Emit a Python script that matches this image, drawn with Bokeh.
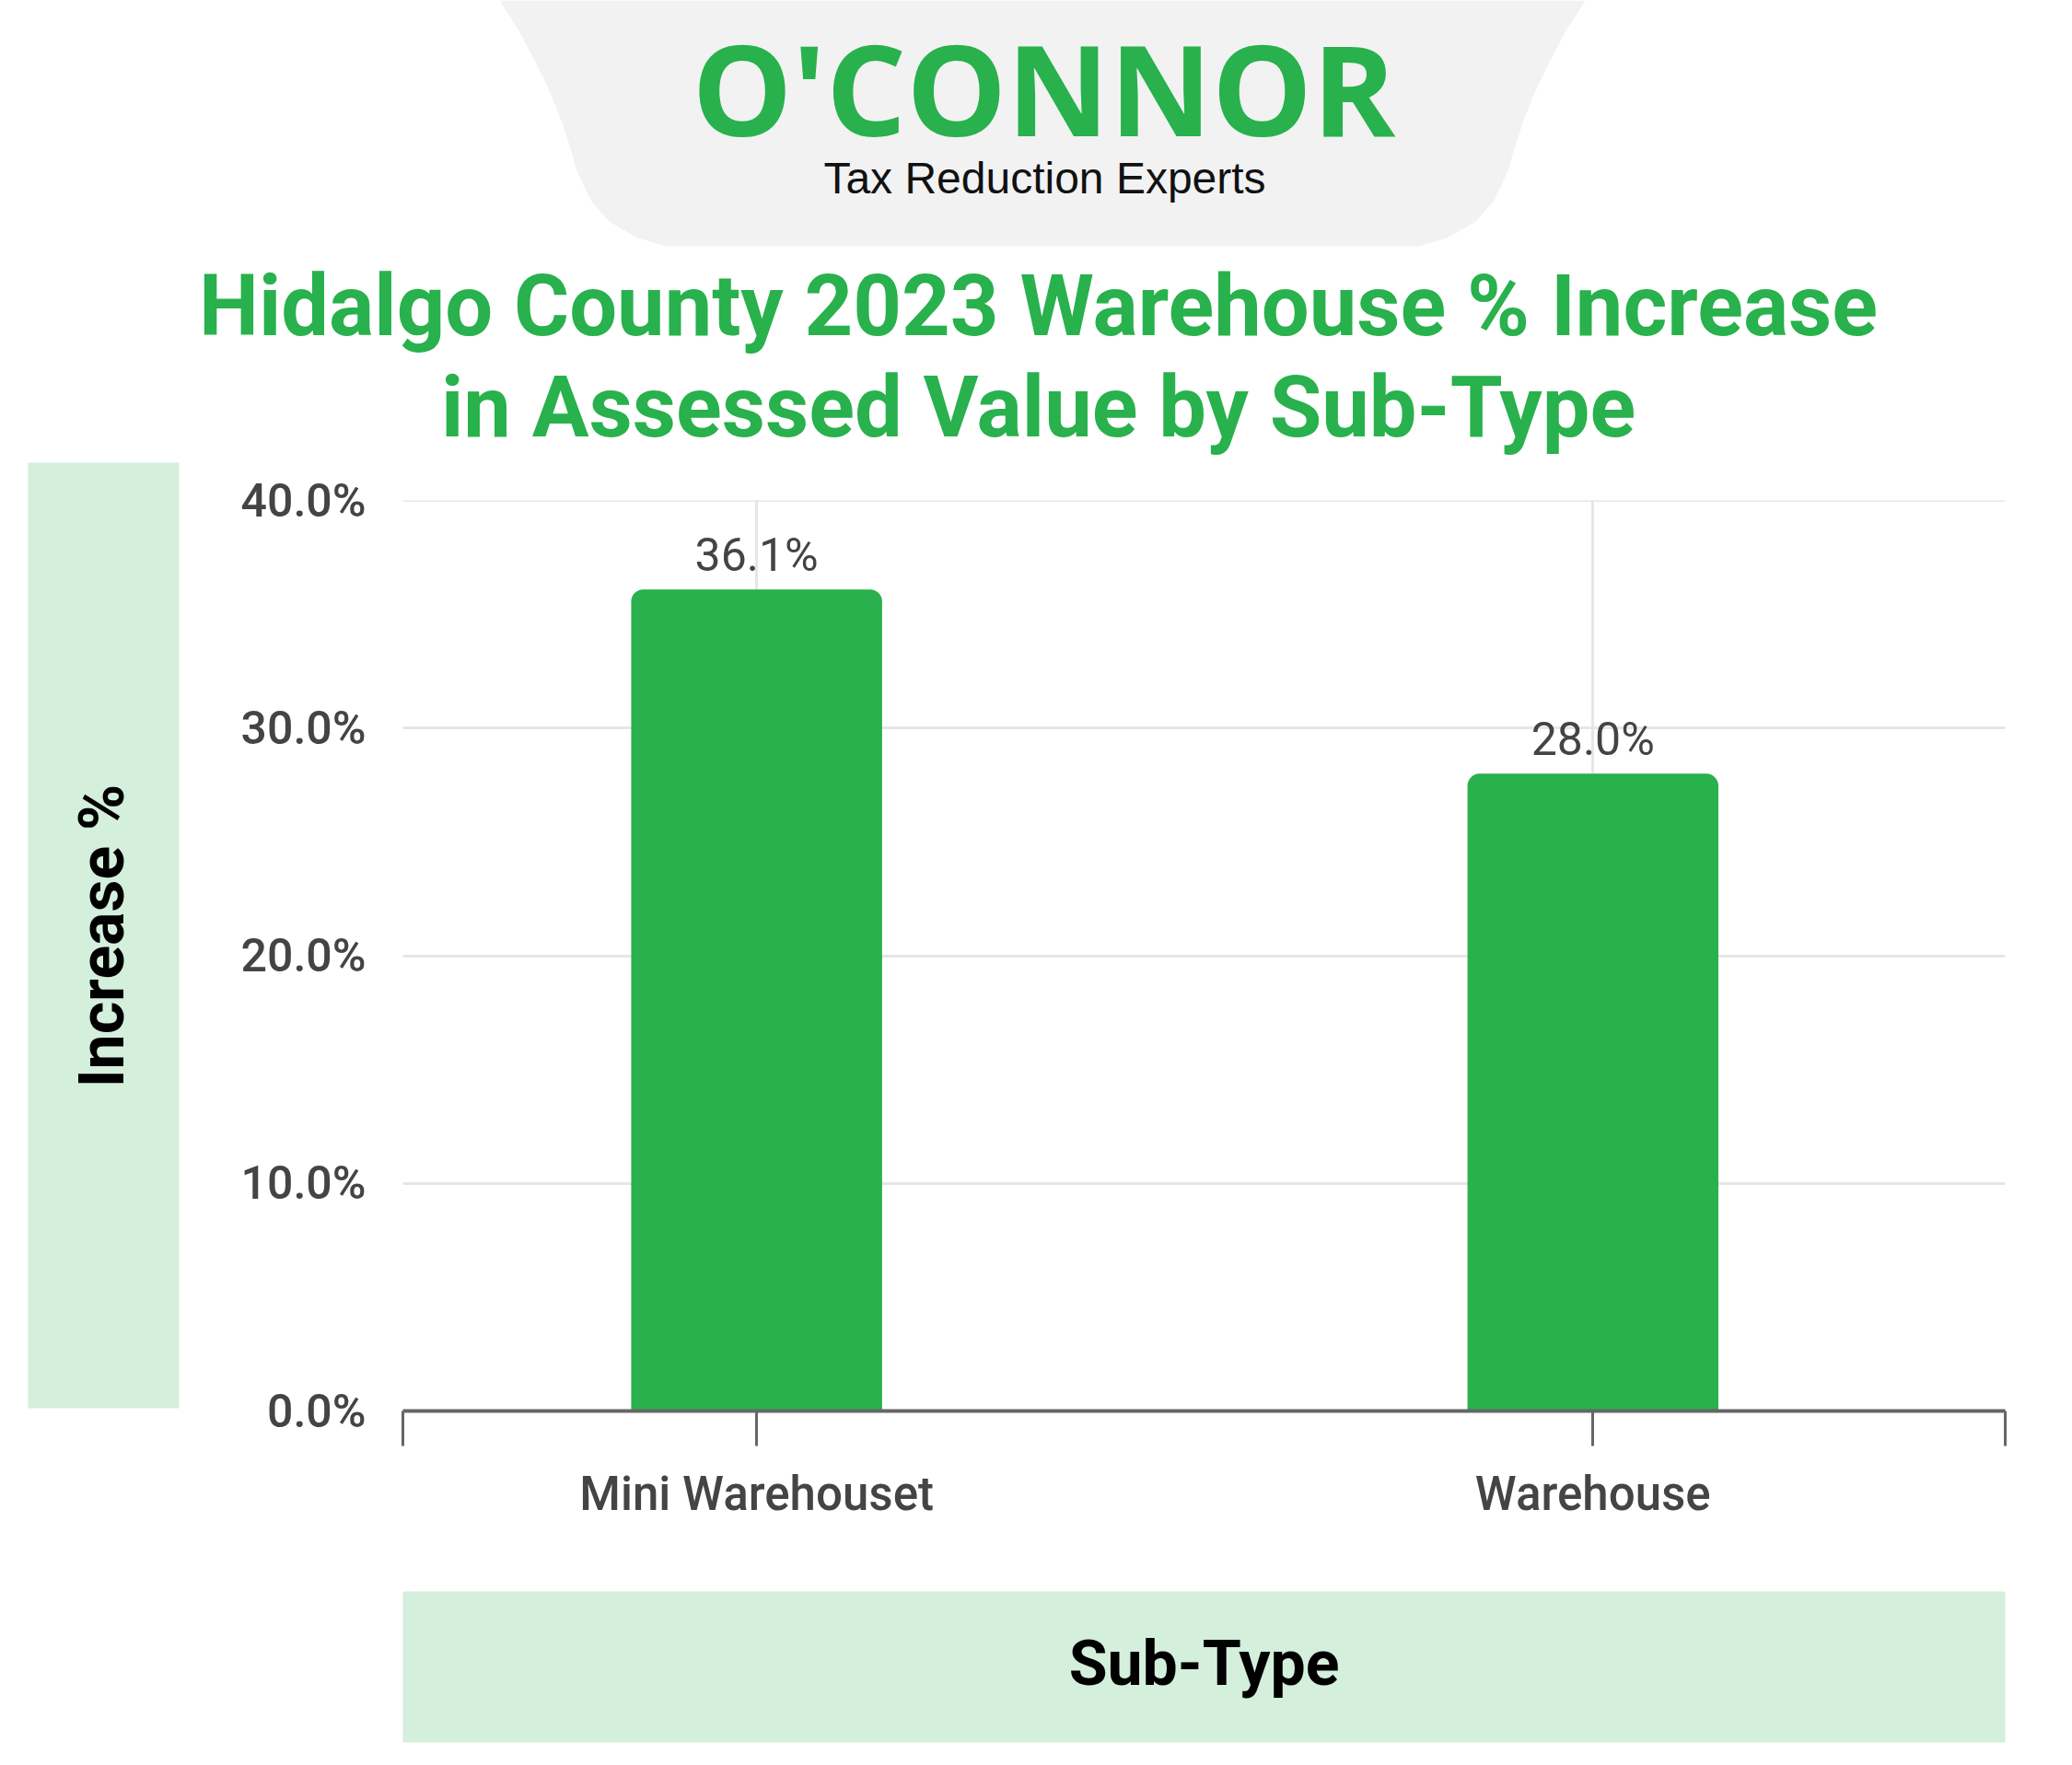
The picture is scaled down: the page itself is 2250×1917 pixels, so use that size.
import math
from bokeh.plotting import figure
from bokeh.layouts import row, column
from bokeh.models import (Range1d, FixedTicker, PrintfTickFormatter, CustomJSTickFormatter,
                          ColumnDataSource, LabelSet)
from bokeh.core.properties import value
from bokeh.embed import file_html
from bokeh.resources import INLINE

# ---- data ----
categories = ["Mini Warehouset", "Warehouse"]
increase_pct = [36.1, 28.0]
y_ticks = [0, 10, 20, 30, 40]

title_line1 = "Hidalgo County 2023 Warehouse % Increase"
title_line2 = "in Assessed Value by Sub-Type"
x_title = "Sub-Type"
y_title = "Increase %"

# ---- style ----
GREEN = "#28b14c"
LIGHT_GREEN = "#d4efdc"
LOGO_BG = "#f2f2f2"
TXT = "#444444"
AXIS = "#666666"
GRID = "#e6e6e6"

# layout in canvas pixels
PAGE_L, PAGE_T = 0, 0
PAGE_R, PAGE_B = 2234, 1901
SPLIT_X = 210            # left strip | right column
TOP_B = 500              # header bottom
MAIN_B = 1700            # main chart bottom
FL, FR, FT, FB = 437, 2177, 543, 1532   # frame of the main chart
X_START, X_END = 0.077, 1.993


def deco_fig(x0, x1, y0, y1):
    f = figure(width=x1 - x0, height=y1 - y0, x_range=Range1d(x0, x1), y_range=Range1d(y1, y0),
               x_axis_type=None, y_axis_type=None, output_backend="svg", toolbar_location=None,
               min_border=0, frame_align=False)
    f.outline_line_color = None
    f.background_fill_color = "white"
    f.border_fill_color = "white"
    return f


def mid(baseline, size, k=0.342):
    # vertical centre of a text line whose baseline is at `baseline`
    return baseline - k * size


# ---------- header ----------
top = deco_fig(SPLIT_X, PAGE_R, PAGE_T, TOP_B)
left_side = [(542, 0), (563, 33), (581, 67), (597, 100), (610, 133), (621, 167), (625, 183),
             (641, 217), (661, 240), (690, 257), (722, 267)]
right_side = [(2263 - x, y) for (x, y) in reversed(left_side)]
shape = left_side + right_side
top.patch([pt[0] for pt in shape], [pt[1] for pt in shape], fill_color=LOGO_BG, line_color=None)
top.text(x=[1133], y=[mid(148, 137, 0.388)], text=["O'CONNOR"], text_align="center",
         text_baseline="middle", text_font=value("Open Sans"), text_font_style="bold",
         text_font_size=value("137px"), text_color=GREEN)
top.text(x=[1134], y=[mid(210, 48, 0.347)], text=["Tax Reduction Experts"], text_align="center",
         text_baseline="middle", text_font=value("Liberation Sans"),
         text_font_size=value("48px"), text_color="#111111")
top.text(x=[1127, 1127], y=[mid(363, 92), mid(473, 92)], text=[title_line1, title_line2],
         text_align="center", text_baseline="middle", text_font=value("Roboto"),
         text_font_style="bold", text_font_size=value("92px"), text_color=GREEN)

# ---------- left strip (y title) ----------
left = deco_fig(PAGE_L, SPLIT_X, PAGE_T, PAGE_B)
left.quad(left=[30], right=[194], top=[502], bottom=[1529], fill_color=LIGHT_GREEN, line_color=None)
left.text(x=[110], y=[1016], text=[y_title], angle=math.pi / 2, text_align="center",
          text_baseline="middle", text_font=value("Roboto"), text_font_style="bold",
          text_font_size=value("68px"), text_color="black")

# ---------- main chart ----------
p = figure(width=PAGE_R - SPLIT_X, height=MAIN_B - TOP_B,
           x_range=Range1d(X_START, X_END), y_range=Range1d(0, 40.01),
           output_backend="svg", toolbar_location=None, frame_align=False,
           min_border_left=FL - SPLIT_X, min_border_right=PAGE_R - FR,
           min_border_top=FT - TOP_B, min_border_bottom=MAIN_B - FB)
p.background_fill_color = "white"
p.border_fill_color = "white"
p.outline_line_color = None

centers = [i + 0.5 for i in range(len(categories))]
src = ColumnDataSource(dict(x=centers, top=increase_pct,
                            label=[f"{v:.1f}%" for v in increase_pct]))

p.vbar(x="x", top="top", bottom=0, width=0.3, source=src, fill_color=GREEN,
       line_color=None, border_radius=(13, 13, 0, 0))

p.add_layout(LabelSet(x="x", y="top", text="label", source=src, y_offset=20,
                      text_align="center", text_baseline="alphabetic",
                      text_font=value("Roboto"), text_font_size=value("50px"),
                      text_color=TXT))

p.yaxis.ticker = FixedTicker(ticks=y_ticks)
p.yaxis.formatter = PrintfTickFormatter(format="%.1f%%")
p.yaxis.axis_line_color = None
p.yaxis.major_tick_line_color = None
p.yaxis.minor_tick_line_color = None
p.yaxis.major_label_text_font = "Roboto Medium"
p.yaxis.major_label_text_font_size = "50px"
p.yaxis.major_label_text_color = TXT
p.yaxis.major_label_standoff = 34

p.xaxis.ticker = FixedTicker(ticks=[X_START] + centers + [X_END])
p.xaxis.formatter = CustomJSTickFormatter(args=dict(names=categories), code="""
    const i = Math.round(tick - 0.5);
    if (Math.abs(tick - (i + 0.5)) < 1e-6 && i >= 0 && i < names.length) return names[i];
    return "";
""")
p.xaxis.axis_line_color = AXIS
p.xaxis.axis_line_width = 4
p.xaxis.major_tick_line_color = AXIS
p.xaxis.major_tick_line_width = 3
p.xaxis.major_tick_in = 0
p.xaxis.major_tick_out = 38
p.xaxis.minor_tick_line_color = None
p.xaxis.major_label_text_font = "Roboto Medium"
p.xaxis.major_label_text_font_size = "51px"
p.xaxis.major_label_text_color = TXT
p.xaxis.major_label_standoff = 22

p.ygrid.ticker = FixedTicker(ticks=y_ticks)
p.ygrid.grid_line_color = GRID
p.ygrid.grid_line_width = 3
p.xgrid.ticker = FixedTicker(ticks=centers)
p.xgrid.grid_line_color = GRID
p.xgrid.grid_line_width = 3

# ---------- bottom strip (x title) ----------
bottom = deco_fig(SPLIT_X, PAGE_R, MAIN_B, PAGE_B)
bottom.quad(left=[437], right=[2177], top=[1728], bottom=[1892], fill_color=LIGHT_GREEN,
            line_color=None)
bottom.text(x=[1307], y=[mid(1830, 68)], text=[x_title], text_align="center",
            text_baseline="middle", text_font=value("Roboto"), text_font_style="bold",
            text_font_size=value("68px"), text_color="black")

layout = row(left, column(top, p, bottom, spacing=0), spacing=0)
open("out.html", "w").write(file_html(layout, INLINE))
